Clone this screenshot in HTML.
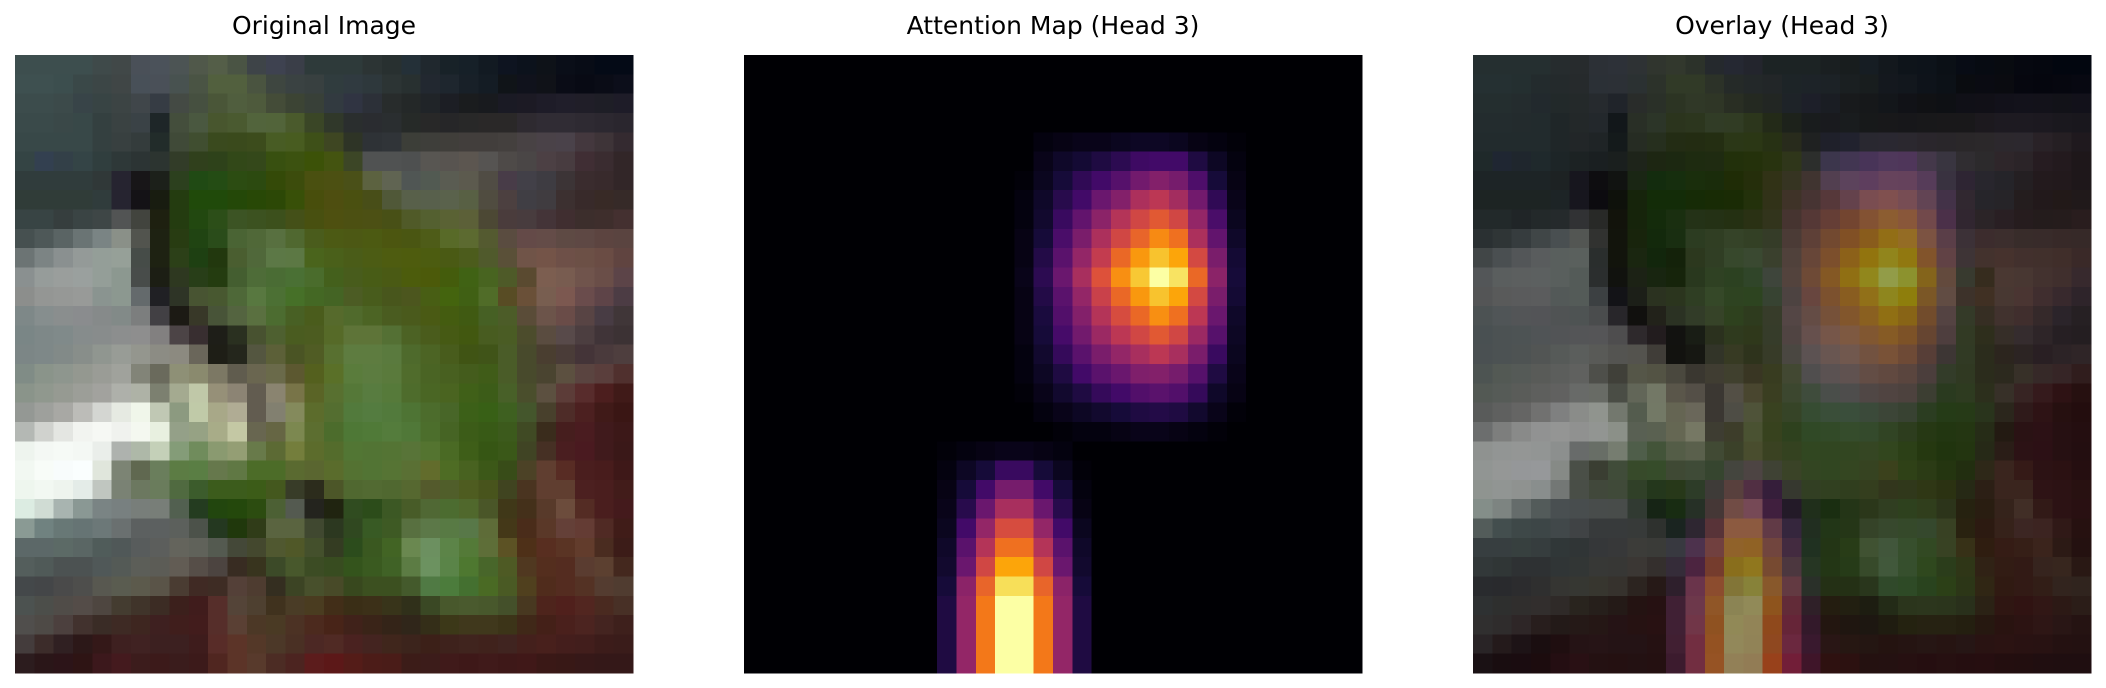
<!DOCTYPE html>
<html><head><meta charset="utf-8">
<style>
html,body{margin:0;padding:0;background:#fff;width:2106px;height:688px;overflow:hidden}
svg{display:block}
text{font-family:"DejaVu Sans","Liberation Sans",sans-serif;font-size:25px;fill:#000}
</style></head>
<body>
<svg id="fig" width="2106" height="688" shape-rendering="crispEdges">
<text x="324" y="34" text-anchor="middle">Original Image</text>
<text x="1053" y="34" text-anchor="middle">Attention Map (Head 3)</text>
<text x="1782" y="34" text-anchor="middle">Overlay (Head 3)</text>
<g id="p1"></g>
<g id="p2"></g>
<g id="p3"></g>
</svg>
<script>
const imageRows = [
"3d4e4e,3d4e4e,3d4e4e,3d4e4e,3f4a4a,414848,4a5058,4b525a,4c5454,50584a,545e48,4a5444,3e4448,3e4250,3a3e48,2e3a3a,2e3a3a,2e3a3a,2c3434,283030,243038,20282e,182228,162028,121a22,0e1420,0c121c,0e1218,0a0e18,080c16,040a16,040a16",
"3e5050,3e5050,3c4e4e,3a4848,3c4646,404646,485058,4a5058,485250,4a5444,52603e,52603e,4a5440,3e4640,3a4242,384040,303c3e,303a40,2e383c,2c3434,283030,222830,1e262e,182028,141c24,101418,10121c,101218,0a0c16,080a14,0a0c16,0c0e1a",
"3c4c4c,3c4c4c,3c4a4a,384448,384444,3c4444,40464a,363c44,444a44,465040,4a5638,505e3e,4e5a3c,444c38,3c4434,384038,323a40,303442,2c3038,282c2c,242828,202428,1c1e24,1a1c1e,181a1e,1a1a24,1c1a24,1e1c28,201e2a,201e28,1e1e26,1e1c28",
"3a4a4a,3a4a4a,3a4848,384848,344040,3a4242,3a4246,1e2628,444e3c,4a5840,48562e,4a5a30,52643c,52643a,4a5a2c,3a4626,30382a,2a2e2e,2a2c30,2a2e30,262a28,282828,262628,282828,2a2828,2a2828,2e2a30,302c34,302c34,2e2a32,2c2830,2a262e",
"384848,384848,384848,384848,344040,384040,343c3c,222c2a,404a38,404e30,3a4a1e,3a4a1c,3c4c1c,485c24,485c20,3e5018,3e4622,2e3426,2e3236,303438,3c3e38,3e3e3a,403e3a,423e3c,423e3c,44403e,484244,4a4248,4a424a,44383e,3e3438,342a30",
"344444,334050,334048,344446,303e3e,2e3838,2c3434,2c3430,323c28,30401c,2e421a,324818,34481a,385010,3c5210,3c5208,445410,3c4626,505252,505252,4e5050,585652,585450,5c5650,565452,4e4a48,4a4646,4c4044,483c40,402e34,3a2c30,322628",
"303c3c,303c3c,303c3c,303c3c,303838,262430,181618,1c201a,2c401e,204a14,244c14,2c4c12,2c4a10,344a08,3c4c0c,4a5010,4c5012,4a5018,5c6240,606452,505654,525a52,5a5c52,5c5a4e,504c44,483c48,424048,3e3c42,3c3436,3a2c2e,382a2c,322628",
"303c38,303c38,303c38,303c38,303c3c,262430,141216,181c10,243c10,204a0a,204a0a,244808,284806,2c4806,385008,484e0c,4e4e10,4a5010,484e18,505838,58604a,58604c,5a624c,586044,504c40,4c4040,403e44,403c40,3c3030,382a2a,382a26,362a28",
"384444,384444,363e3e,3a4444,3e4646,525454,42443e,1e2010,243c10,224810,2c4e18,3c5424,3c5220,3c501c,445018,485010,4e5010,4c5012,4c5014,485016,505a28,546030,5a6234,5c6038,4c4834,4a3c3c,483c3e,443438,402e30,3c2e2c,3e2e2c,443030",
"465050,4e5858,5a6464,6a7474,7a8484,8a9088,52544e,1e2212,283c12,204412,2a4c1a,4a6434,506838,587040,506830,4a5c1c,4c5a14,4c5814,4c5a12,4c5610,4a5612,4e5c18,586a28,5c6a30,545a30,5a4c40,644a48,644c48,5e4a44,5e4844,5c4440,5a4440",
"6c7474,7c8484,8a9090,949a98,949e98,96a098,464c48,1e2212,2c4018,1e4012,22380e,4a5e30,50683a,5c7846,5c7844,4a641c,4a601a,4a5c18,4c5c14,4e5c10,4e5c0e,4c5c10,4a5a14,4c5c1c,505a2c,5a5038,705448,745448,6e5048,6c5046,6a4c44,604440",
"8a9090,969c9a,9a9e9c,9aa09e,949e98,8c9890,484c4a,1c1e14,2e3820,283e18,243c10,445e30,4e6c38,4a6c34,4a7034,4a6c2c,44601c,485c1c,485c16,4a5a14,4c5c0c,4c5a0a,445c0c,406214,486420,4e5a28,5a4a30,7c5e50,785c50,70544c,6a4e48,5c4448",
"8c8e8c,949694,969896,989a98,8a9490,8c9890,646a6c,202024,2e3426,485432,485830,4e6838,587840,4c7034,467028,446824,446424,4c5c24,485c1c,48561c,4c561e,485e14,44640e,406014,506c28,584c24,6a5038,785e50,7c5850,6a4c4c,5e4448,4c3c44",
"7e8888,868e8e,8a8e8e,8a8c8e,868a8a,828a88,7c7e7e,424044,1c1a14,383828,485438,546440,5a7040,4c6c30,486024,4a5c1c,566a2c,506a2c,4c6424,4a5c20,4a5a1c,4a5a14,445c10,405a12,466024,4c5c28,5a4c38,6c544a,6a4c48,584444,483c44,403638",
"7a8686,7e8888,808a8a,868c8c,888c8c,8c8e8e,8e8e8e,828080,4c4446,382e30,1e1e18,2a3020,485230,4e6030,4a5c20,4c5c20,566a28,5e7438,5e7438,547034,4c6224,4a5c1c,465a14,425810,485c20,4a5c24,4c4c2c,5a4c40,584a4a,4c3e40,403438,3c3234",
"7c8686,7e8888,828a88,888e8a,909690,989c96,94968e,8c8c84,8c8a80,6a665a,1e1e16,24261c,545640,5c6038,4a5424,505c24,587030,5e7c40,5e7c40,5a7a3e,4e6a2c,4c6424,485c1c,405414,405418,4a5c28,484a2c,4a3e30,4a3c38,443438,4a3a3c,4e3e3e",
"808c86,8a948a,8e968e,949890,9a9c96,a0a29c,828478,6a6a5c,8e9076,8a8a6e,7c7864,605c4e,6a6650,6a6a4a,5c5830,54601e,5a7028,5a7c3c,5c7c40,5a7a3c,506c2c,4a6424,486020,445c1c,405c18,4a5c28,484a2c,4a4430,5c5040,5a4440,5a3e3c,50302e",
"8a948a,90988e,969a92,9c9e98,a2a29e,aeb0aa,aeb2a6,7c8070,a4aa90,c0c8a8,969078,8c8474,625c50,8a8470,787448,5a6426,587030,557838,587c40,567a3a,4e6c2c,4a6624,4a6420,406018,3c5c18,486028,4a4e2c,5c5040,5c3c38,582c2c,4c1e1e,401a18",
"949894,9ea09c,a8a8a4,bcbcb8,d4d6d2,e6eae2,f0f6ea,c0c8b4,8c9a80,c0caa8,a8a888,b0ac94,625c50,828070,848a5c,5c6c2c,546e30,527a3c,547c40,527a3c,4e7434,4c6c2c,486628,3c6018,386016,3e6020,44562c,48402c,4e2c28,4c2020,401a18,3a1614",
"b4b8b4,d0d2ce,e4e6e2,f2f4f0,f6f8f4,f0f2ee,f4f8f0,e8f0e0,94a088,96a284,a8ac88,c4c8a4,686650,666644,7c8850,5c6e30,4c6c2c,4e7836,507a38,547c3c,507838,4c6e2c,466424,3c5c18,385a16,3c5a1c,404a24,3a2c1c,461e1e,4a1c20,401a1c,3c1818",
"eef4ee,f4f8f4,f6faf6,f4f8f4,eaeeea,aeb2ae,aeb8a8,c4d0b8,849c78,708c5c,8a9a70,949e74,687a4a,5c6a34,747e3c,5c6c2c,546c2c,527634,527434,547434,587438,547430,4a6a24,3e5e18,365614,3a5818,404424,463024,4a1e20,4a1a20,401a1c,3a1818",
"f2f8f2,f8fcf8,f8fcfc,fafefe,e0e6dc,7c8474,606850,6a7e5c,5c7c44,5a7e44,66784c,607844,4c6c28,4c6c28,5a6a30,5a6630,5a6c2c,547232,527434,567434,5a7034,626c2c,4e6c24,486220,3c5818,384c18,4c4226,603e30,582c24,4a1e1e,481c1c,3e1818",
"eef6ee,f2f8f2,eef4ee,e4ece8,c0c6c0,7a8274,6c7860,6a7c5c,506a40,3c5c2c,3c5c1c,3c5c1c,3c5c18,44581e,383c28,2c2c1c,4c5628,506830,526a32,506830,566830,545a2c,505e2a,4e5c20,48541c,404420,4a3420,603e30,603e30,4c2020,4a1e1e,421c1a",
"dcece2,d0dcd4,a8b4b0,8a9894,7a8484,788080,787e7a,787e78,526050,243c20,22460e,24480c,2c4c10,4c6034,545a50,24241e,202410,304c20,2c4c1a,3c5824,485c28,506834,4c6c30,50682c,4a5628,403818,44301a,583a2a,6c4c3c,542c24,4a1e1e,441a1c",
"8a9a94,708280,687876,667474,6c7878,6a7070,5c6060,5c6060,5c605c,4c524a,243820,20380c,303c18,5a6440,5a6440,404830,2c3820,304820,385a24,3e5a24,587040,5c7848,587a44,587848,5e6c38,443818,4a2c1a,5a3828,644038,643c34,502a24,401c18",
"5c6868,5c6868,5c6a66,5a6664,505c5a,505858,585c5c,5c5e5c,64645c,60625a,545a50,444838,44482e,505830,505828,44502c,343c22,2c4c1c,3a5820,426424,6a8850,6c9060,5c8448,547a38,5e6e38,5c5224,4e3018,582e20,5a3424,623c2c,4a2c20,3c1c18",
"545e5c,505a58,4c5252,4c5252,505858,545a56,5c5e58,5c5c56,625c54,564e48,4c4440,382c22,38341e,3c4a28,48582c,3c4c24,384c20,34541c,3a5a20,406226,5c7c44,6c9260,5a8448,4e7830,48662a,4e5a24,503820,542e1e,542c20,5a3c30,5c4030,44281e",
"44484a,444648,4a4a4a,4e4e4c,585850,5a5c50,5c5a4c,5a5448,4a3c32,402a24,3e2c24,544038,4e3c30,342e20,3c4424,48502c,484a28,38481e,3c5020,3c5020,445a2c,507a44,4c7c3c,447030,4a6a24,4a5a24,50401e,502c1c,542c20,543224,543c30,503c30",
"4c5250,4c4e4a,504c48,544c48,4e4640,443c30,40342a,3c2c24,3c201c,401c1c,562e2a,544438,4e4030,40321e,4a3c26,4a3c20,422e18,3a2e16,3c3018,38341a,30301a,3a4824,48582c,4a5a2e,48582c,44502a,483820,4e241c,50201c,522620,4a2a20,483026",
"504e4c,4e4a46,4c403e,42322e,3a2c26,3e2a24,3e2620,3e2020,401e1c,421c1c,562e2a,5a4034,4c3826,4a3a24,4c3224,4c2a1e,482418,40221a,3a2418,342418,30261a,342e18,3c3818,40381c,40381c,3c3418,402818,442018,4a201c,4c2420,442420,3e201c",
"443c3c,3c2c2a,302022,2c1818,341818,3e2020,402222,3c2020,3c2020,3e1c1c,582c28,5c3428,543828,4c3828,4a3024,4c2824,502a24,4a2220,442420,40261c,3c241c,3c2018,3e221c,40241e,40221c,402420,44201c,48201c,441e1c,421e1c,3c1c1a,3a1c1a",
"2c1c1e,2a1618,2c1418,2e1414,3c181c,441a1e,3c1c1c,3c1a1a,3a1c1c,3c1a1a,502620,5c3428,583a2c,4c2c24,4c2420,5c1c1c,5c1818,541c18,4c1c18,4a1c18,3c1c18,3c1c1a,401a1a,3e1818,401a1a,3e1818,401818,3a1816,381816,361818,341818,341818"
];
const topBlobStart = 14;
const topBlobRows = [4,5,6,7,8,9,10,11,12,13,14,15,16,17,18,19];
const topBlobVals = [
[0,0.02,0.03,0.04,0.04,0.05,0.06,0.06,0.05,0.03,0.02,0.01],
[0,0.04,0.07,0.09,0.12,0.15,0.19,0.2,0.2,0.12,0.06,0.02],
[0.01,0.05,0.1,0.16,0.2,0.25,0.32,0.36,0.33,0.23,0.1,0.03],
[0.02,0.07,0.14,0.2,0.3,0.36,0.46,0.5,0.44,0.32,0.16,0.04],
[0.02,0.08,0.18,0.28,0.38,0.48,0.56,0.62,0.56,0.4,0.22,0.05],
[0.03,0.1,0.22,0.34,0.46,0.56,0.65,0.74,0.68,0.46,0.28,0.07],
[0.03,0.13,0.26,0.4,0.52,0.66,0.77,0.86,0.8,0.57,0.34,0.09],
[0.04,0.15,0.3,0.45,0.6,0.75,0.87,1.0,0.93,0.66,0.38,0.1],
[0.03,0.13,0.26,0.4,0.54,0.66,0.77,0.86,0.8,0.57,0.34,0.09],
[0.03,0.11,0.24,0.36,0.48,0.58,0.66,0.75,0.68,0.5,0.3,0.07],
[0.03,0.1,0.21,0.32,0.42,0.5,0.56,0.62,0.56,0.42,0.25,0.06],
[0.02,0.08,0.17,0.26,0.34,0.4,0.45,0.5,0.45,0.34,0.18,0.05],
[0.02,0.06,0.12,0.2,0.26,0.3,0.35,0.36,0.33,0.25,0.12,0.04],
[0.01,0.04,0.08,0.12,0.17,0.2,0.24,0.26,0.24,0.17,0.07,0.03],
[0,0.02,0.04,0.06,0.08,0.1,0.12,0.13,0.12,0.08,0.04,0.01],
[0,0,0.01,0.02,0.02,0.03,0.04,0.04,0.03,0.02,0.01,0]
];
const bottomBlobStart = 10;
const bottomBlobRows = [20,21,22,23,24,25,26,27,28,29,30,31];
const bottomBlobVals = [
[0.01,0.02,0.03,0.04,0.04,0.03,0.02,0],
[0.02,0.06,0.1,0.18,0.18,0.1,0.05,0.01],
[0.03,0.1,0.2,0.33,0.33,0.2,0.1,0.02],
[0.04,0.14,0.3,0.45,0.45,0.3,0.14,0.03],
[0.05,0.2,0.4,0.58,0.58,0.4,0.2,0.05],
[0.07,0.26,0.48,0.68,0.68,0.48,0.26,0.07],
[0.08,0.3,0.56,0.8,0.8,0.56,0.3,0.08],
[0.1,0.38,0.65,0.92,0.92,0.65,0.38,0.1],
[0.12,0.4,0.7,1,1,0.7,0.4,0.12],
[0.12,0.4,0.7,1,1,0.7,0.4,0.12],
[0.12,0.4,0.7,1,1,0.7,0.4,0.12],
[0.12,0.4,0.7,1,1,0.7,0.4,0.12]
];

const N = 32, PY = 55, PS = 618, CELL = PS / N;
const panelX = [15, 744, 1473];
const infernoStops = ["000004","160b39","420a68","6a176e","932667","bc3754","dd513a","f37819","fca50a","f6d746","fcffa4"];
function hex2rgb(h){return [parseInt(h.slice(0,2),16),parseInt(h.slice(2,4),16),parseInt(h.slice(4,6),16)];}
function inferno(v){
  v=Math.max(0,Math.min(1,v));const t=v*10,i=Math.min(9,Math.floor(t)),f=t-i;
  const a=hex2rgb(infernoStops[i]),b=hex2rgb(infernoStops[i+1]);
  return a.map((x,k)=>Math.round(x+(b[k]-x)*f));
}
const att=[];for(let r=0;r<N;r++){att.push(new Array(N).fill(0));}
topBlobRows.forEach((r,i)=>topBlobVals[i].forEach((v,j)=>{att[r][topBlobStart+j]=v;}));
bottomBlobRows.forEach((r,i)=>bottomBlobVals[i].forEach((v,j)=>{att[r][bottomBlobStart+j]=v;}));
const NS="http://www.w3.org/2000/svg";
function cell(g,px,r,c,rgb,name){
  const el=document.createElementNS(NS,"rect");
  el.setAttribute("x",(px+c*CELL).toFixed(2));
  el.setAttribute("y",(PY+r*CELL).toFixed(2));
  el.setAttribute("width",(CELL+0.6).toFixed(2));
  el.setAttribute("height",(CELL+0.6).toFixed(2));
  el.setAttribute("fill","rgb("+rgb.join(",")+")");
  
  
  g.appendChild(el);
}
const g1=document.getElementById("p1"),g2=document.getElementById("p2"),g3=document.getElementById("p3");
for(let r=0;r<N;r++){
  const row=imageRows[r].split(",");
  for(let c=0;c<N;c++){
    const o=hex2rgb(row[c]||row[row.length-1]);
    const h=inferno(att[r][c]);
    cell(g1,panelX[0],r,c,o,"image-pixel");
    cell(g2,panelX[1],r,c,h,"attention-cell");
    const ov=o.map((x,k)=>Math.round(0.6*x+0.4*h[k]));
    cell(g3,panelX[2],r,c,ov,"overlay-cell");
  }
}
</script>
</body></html>
